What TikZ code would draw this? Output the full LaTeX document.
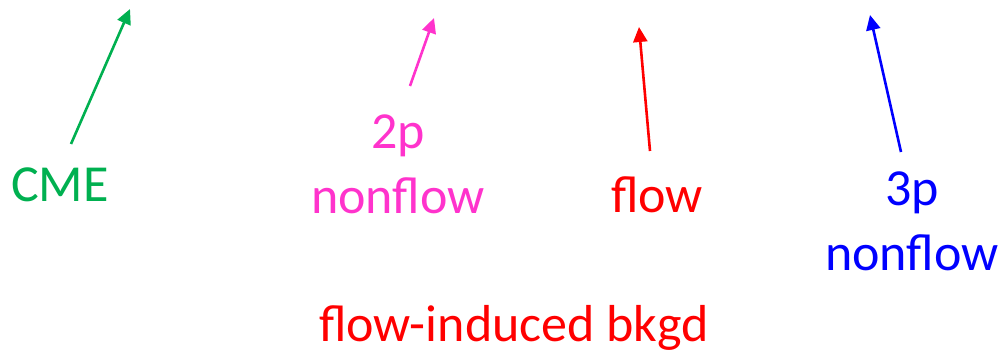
\documentclass[tikz,border=0pt]{standalone}
\usepackage{fontspec}
\setmainfont{Carlito}
\usetikzlibrary{arrows.meta}
\definecolor{cmegreen}{HTML}{00B050}
\definecolor{nfpink}{HTML}{FF33CC}
\definecolor{flowred}{HTML}{FF0000}
\definecolor{nfblue}{HTML}{0000FF}
\tikzset{
  lbl/.style={anchor=base, align=center, inner sep=0pt,
    font=\fontsize{52}{65}\selectfont},
  ptr/.style={line width=2.6pt, -{Triangle[length=15pt,width=14pt]}}
}
\begin{document}
\begin{tikzpicture}[x=1pt, y=-1pt]
\useasboundingbox (0,0) rectangle (1002,350);
% labels (two-line labels are placed by the baseline of their last line)
\node[lbl, text=cmegreen] (cme) at (60,201) {CME};
\node[lbl, text=nfpink] (twop) at (398,213) {2p\\nonflow};
\node[lbl, text=flowred] (flow) at (657,212) {flow};
\node[lbl, text=nfblue] (threep) at (912,270) {3p\\nonflow};
\node[lbl, text=flowred] (bkgd) at (514,341) {flow-induced bkgd};
% arrow tails and tips
\coordinate (cmeA) at (71,144);   \coordinate (cmeB) at (130,9);
\coordinate (twopA) at (410,86);  \coordinate (twopB) at (434,18);
\coordinate (flowA) at (650,151); \coordinate (flowB) at (639,27);
\coordinate (threepA) at (901,152); \coordinate (threepB) at (870,15);
\draw[ptr, cmegreen] (cmeA) -- (cmeB);
\draw[ptr, nfpink] (twopA) -- (twopB);
\draw[ptr, flowred] (flowA) -- (flowB);
\draw[ptr, nfblue] (threepA) -- (threepB);
\end{tikzpicture}
\end{document}
